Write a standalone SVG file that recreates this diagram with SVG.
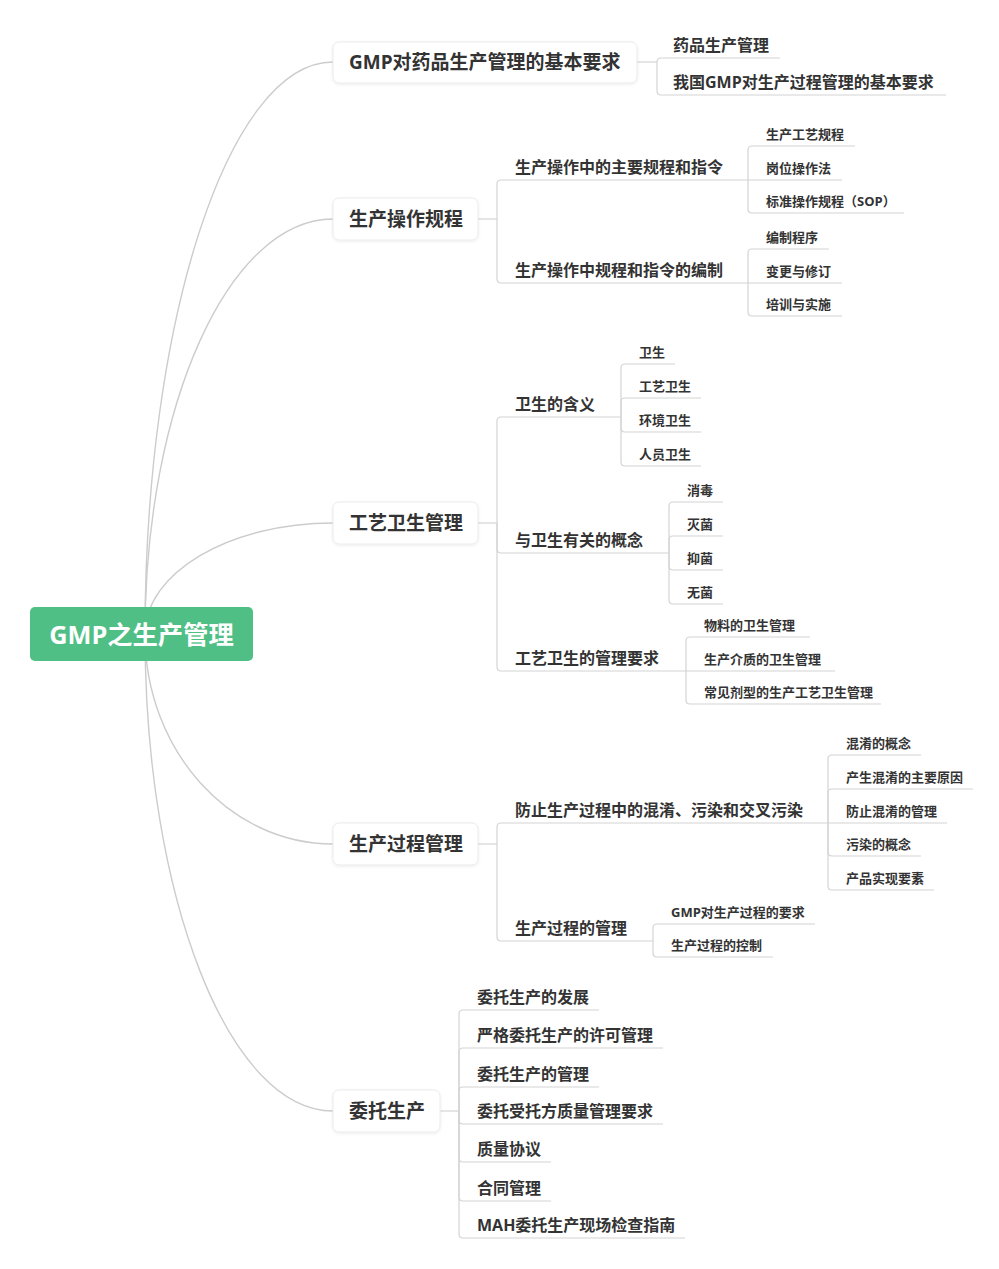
<svg xmlns="http://www.w3.org/2000/svg" width="999" height="1269" viewBox="0 0 999 1269">
<defs>
<filter id="sh" x="-10%" y="-30%" width="120%" height="160%">
<feDropShadow dx="0" dy="1" stdDeviation="1.5" flood-color="#000" flood-opacity="0.08"/>
</filter>
<style>
text{font-family:"Open Sans","Noto Sans CJK SC",sans-serif;font-weight:700;fill:#333}
.t0{font-size:25.3px;fill:#fff}
.t1{font-size:19px}
.t2{font-size:16px}
.t3{font-size:13px}
.box{fill:#fff;stroke:#ebebeb;stroke-width:1}
.cv{fill:none;stroke:#cccccc;stroke-width:1.4}
.ln{fill:none;stroke:#d4d4d4;stroke-width:1.2}
</style>
</defs>
<rect width="999" height="1269" fill="#fff"/>
<g id="connectors">
<path class="cv" d="M145,634 C145,319 229,62 333,62"/>
<path class="cv" d="M145,634 C145,405 229,219 333,219"/>
<path class="cv" d="M145,634 C145,573 229,523 333,523"/>
<path class="cv" d="M145,634 C145,750 229,844 333,844"/>
<path class="cv" d="M145,634 C145,897 229,1111 333,1111"/>
<path class="ln" d="M637,62 H657"/>
<path class="ln" d="M657,62 Q657,58 661,58 H780"/>
<path class="ln" d="M657,62 V91 Q657,95 661,95 H946"/>
<path class="ln" d="M478,219 H497"/>
<path class="ln" d="M497,219 V184 Q497,180 501,180 H748"/>
<path class="ln" d="M497,219 V279 Q497,283 501,283 H748"/>
<path class="ln" d="M748,180 V150 Q748,146 752,146 H855"/>
<path class="ln" d="M748,180 H842"/>
<path class="ln" d="M748,180 V209 Q748,213 752,213 H904"/>
<path class="ln" d="M748,283 V253 Q748,249 752,249 H829"/>
<path class="ln" d="M748,283 H842"/>
<path class="ln" d="M748,283 V312 Q748,316 752,316 H842"/>
<path class="ln" d="M478,523 H497"/>
<path class="ln" d="M497,523 V421 Q497,417 501,417 H621"/>
<path class="ln" d="M497,523 V549 Q497,553 501,553 H669"/>
<path class="ln" d="M497,523 V667 Q497,671 501,671 H686"/>
<path class="ln" d="M621,417 V368 Q621,364 625,364 H675"/>
<path class="ln" d="M621,417 V402 Q621,398 625,398 H701"/>
<path class="ln" d="M621,417 V428 Q621,432 625,432 H701"/>
<path class="ln" d="M621,417 V462 Q621,466 625,466 H701"/>
<path class="ln" d="M669,553 V506 Q669,502 673,502 H723"/>
<path class="ln" d="M669,553 V540 Q669,536 673,536 H723"/>
<path class="ln" d="M669,553 V566 Q669,570 673,570 H723"/>
<path class="ln" d="M669,553 V600 Q669,604 673,604 H723"/>
<path class="ln" d="M686,671 V641 Q686,637 690,637 H810"/>
<path class="ln" d="M686,671 H835"/>
<path class="ln" d="M686,671 V700 Q686,704 690,704 H881"/>
<path class="ln" d="M478,844 H497"/>
<path class="ln" d="M497,844 V827 Q497,823 501,823 H828"/>
<path class="ln" d="M497,844 V937 Q497,941 501,941 H653"/>
<path class="ln" d="M828,823 V759 Q828,755 832,755 H921"/>
<path class="ln" d="M828,823 V793 Q828,789 832,789 H973"/>
<path class="ln" d="M828,823 H947"/>
<path class="ln" d="M828,823 V852 Q828,856 832,856 H921"/>
<path class="ln" d="M828,823 V886 Q828,890 832,890 H934"/>
<path class="ln" d="M653,941 V928 Q653,924 657,924 H815"/>
<path class="ln" d="M653,941 V953 Q653,957 657,957 H773"/>
<path class="ln" d="M440,1111 H459"/>
<path class="ln" d="M459,1111 V1014 Q459,1010 463,1010 H599"/>
<path class="ln" d="M459,1111 V1052 Q459,1048 463,1048 H663"/>
<path class="ln" d="M459,1111 V1091 Q459,1087 463,1087 H599"/>
<path class="ln" d="M459,1111 V1120 Q459,1124 463,1124 H663"/>
<path class="ln" d="M459,1111 V1158 Q459,1162 463,1162 H551"/>
<path class="ln" d="M459,1111 V1197 Q459,1201 463,1201 H551"/>
<path class="ln" d="M459,1111 V1234 Q459,1238 463,1238 H685"/>
</g>
<g id="root">
<rect x="30" y="607" width="223" height="54" rx="5" fill="#4fbf85"/>
<text class="t0" x="141.5" y="644" text-anchor="middle">GMP之生产管理</text>
</g>
<g id="n1">
<rect class="box" x="333" y="42" width="304" height="41" rx="6" filter="url(#sh)"/>
<text class="t1" x="349" y="69">GMP对药品生产管理的基本要求</text>
</g>
<g id="n1-1"><text class="t2" x="673" y="51">药品生产管理</text></g>
<g id="n1-2"><text class="t2" x="673" y="88">我国GMP对生产过程管理的基本要求</text></g>
<g id="n2">
<rect class="box" x="333" y="198" width="145" height="42" rx="6" filter="url(#sh)"/>
<text class="t1" x="349" y="226">生产操作规程</text>
</g>
<g id="n2-1"><text class="t2" x="515" y="173">生产操作中的主要规程和指令</text></g>
<g id="n2-1-1"><text class="t3" x="766" y="139">生产工艺规程</text></g>
<g id="n2-1-2"><text class="t3" x="766" y="173">岗位操作法</text></g>
<g id="n2-1-3"><text class="t3" x="766" y="206">标准操作规程（SOP）</text></g>
<g id="n2-2"><text class="t2" x="515" y="276">生产操作中规程和指令的编制</text></g>
<g id="n2-2-1"><text class="t3" x="766" y="242">编制程序</text></g>
<g id="n2-2-2"><text class="t3" x="766" y="276">变更与修订</text></g>
<g id="n2-2-3"><text class="t3" x="766" y="309">培训与实施</text></g>
<g id="n3">
<rect class="box" x="333" y="502" width="145" height="42" rx="6" filter="url(#sh)"/>
<text class="t1" x="349" y="530">工艺卫生管理</text>
</g>
<g id="n3-1"><text class="t2" x="515" y="410">卫生的含义</text></g>
<g id="n3-1-1"><text class="t3" x="639" y="357">卫生</text></g>
<g id="n3-1-2"><text class="t3" x="639" y="391">工艺卫生</text></g>
<g id="n3-1-3"><text class="t3" x="639" y="425">环境卫生</text></g>
<g id="n3-1-4"><text class="t3" x="639" y="459">人员卫生</text></g>
<g id="n3-2"><text class="t2" x="515" y="546">与卫生有关的概念</text></g>
<g id="n3-2-1"><text class="t3" x="687" y="495">消毒</text></g>
<g id="n3-2-2"><text class="t3" x="687" y="529">灭菌</text></g>
<g id="n3-2-3"><text class="t3" x="687" y="563">抑菌</text></g>
<g id="n3-2-4"><text class="t3" x="687" y="597">无菌</text></g>
<g id="n3-3"><text class="t2" x="515" y="664">工艺卫生的管理要求</text></g>
<g id="n3-3-1"><text class="t3" x="704" y="630">物料的卫生管理</text></g>
<g id="n3-3-2"><text class="t3" x="704" y="664">生产介质的卫生管理</text></g>
<g id="n3-3-3"><text class="t3" x="704" y="697">常见剂型的生产工艺卫生管理</text></g>
<g id="n4">
<rect class="box" x="333" y="823" width="145" height="42" rx="6" filter="url(#sh)"/>
<text class="t1" x="349" y="851">生产过程管理</text>
</g>
<g id="n4-1"><text class="t2" x="515" y="816">防止生产过程中的混淆、污染和交叉污染</text></g>
<g id="n4-1-1"><text class="t3" x="846" y="748">混淆的概念</text></g>
<g id="n4-1-2"><text class="t3" x="846" y="782">产生混淆的主要原因</text></g>
<g id="n4-1-3"><text class="t3" x="846" y="816">防止混淆的管理</text></g>
<g id="n4-1-4"><text class="t3" x="846" y="849">污染的概念</text></g>
<g id="n4-1-5"><text class="t3" x="846" y="883">产品实现要素</text></g>
<g id="n4-2"><text class="t2" x="515" y="934">生产过程的管理</text></g>
<g id="n4-2-1"><text class="t3" x="671" y="917">GMP对生产过程的要求</text></g>
<g id="n4-2-2"><text class="t3" x="671" y="950">生产过程的控制</text></g>
<g id="n5">
<rect class="box" x="333" y="1090" width="107" height="42" rx="6" filter="url(#sh)"/>
<text class="t1" x="349" y="1118">委托生产</text>
</g>
<g id="n5-1"><text class="t2" x="477" y="1003">委托生产的发展</text></g>
<g id="n5-2"><text class="t2" x="477" y="1041">严格委托生产的许可管理</text></g>
<g id="n5-3"><text class="t2" x="477" y="1080">委托生产的管理</text></g>
<g id="n5-4"><text class="t2" x="477" y="1117">委托受托方质量管理要求</text></g>
<g id="n5-5"><text class="t2" x="477" y="1155">质量协议</text></g>
<g id="n5-6"><text class="t2" x="477" y="1194">合同管理</text></g>
<g id="n5-7"><text class="t2" x="477" y="1231">MAH委托生产现场检查指南</text></g>
</svg>
